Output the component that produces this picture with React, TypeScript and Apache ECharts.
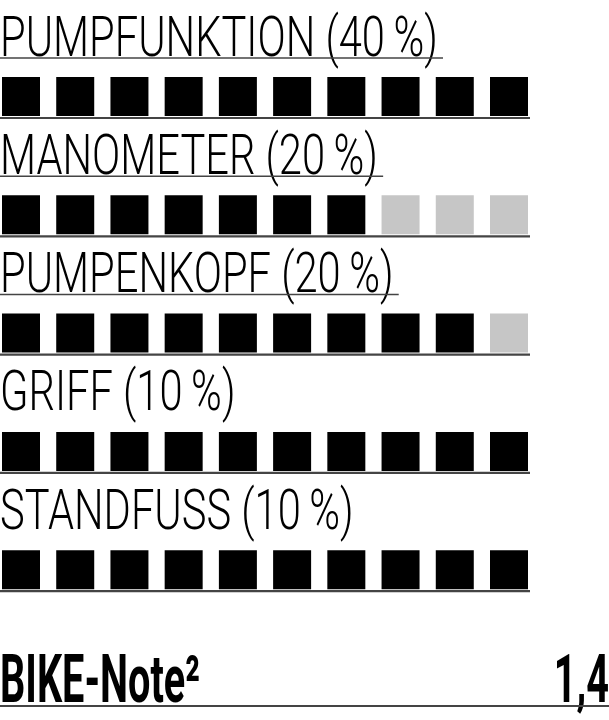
import React, { useEffect, useRef } from "react";
import * as echarts from "echarts";

// Bewertung je Kriterium (Kästchen von 10)
const criteria = ["PUMPFUNKTION", "MANOMETER", "PUMPENKOPF", "GRIFF", "STANDFUSS"];
const weights = [40, 20, 20, 10, 10];
const scores = [10, 7, 9, 10, 10];
const maxScore = 10;
const titleUnderlined = [true, true, true, false, false];
const noteLabel = "BIKE-Note²";
const noteValue = "1,4";

const TITLE_FONT = "Roboto";
const TITLE_SIZE = 56;
const NOTE_SIZE = 66;

const measure = (text: string, font: string) => {
  const ctx = document.createElement("canvas").getContext("2d");
  if (!ctx) return text.length * 30;
  ctx.font = font;
  return ctx.measureText(text).width;
};

const App: React.FC = () => {
  const chartRef = useRef<HTMLDivElement | null>(null);

  useEffect(() => {
    if (!chartRef.current) return;
    document.body.style.margin = "0";
    const chart = echarts.init(chartRef.current, undefined, { renderer: "svg" });

    const titles = criteria.map((c, i) => `${c} (${weights[i]}\u2009%)`);
    const titleFont = `300 ${TITLE_SIZE}px ${TITLE_FONT}`;
    const titleScale = 438 / measure(titles[0], titleFont);
    const noteFont = `bold ${NOTE_SIZE}px ${TITLE_FONT}`;
    const noteScale = 200 / measure(noteLabel, noteFont);

    const rows = criteria.map((_, i) => [i, scores[i]]);

    const option = {
      animation: false,
      backgroundColor: "#ffffff",
      grid: { left: 21, right: 100, top: 96.5, bottom: 150.3 },
      xAxis: { type: "value", min: 0, max: maxScore - 1, show: false },
      yAxis: { type: "value", min: 0, max: criteria.length - 1, inverse: true, show: false },
      series: [
        {
          type: "custom",
          data: rows,
          renderItem: (params: any, api: any) => {
            const row = api.value(0);
            const score = api.value(1);
            const children: any[] = [];
            const [, cy] = api.coord([0, row]);
            const baseline = cy - 39.5;
            const title = titles[row];
            const w = measure(title, titleFont) * titleScale;
            children.push({
              type: "text",
              x: 0,
              y: baseline - TITLE_SIZE * 0.37,
              scaleX: titleScale,
              style: {
                text: title,
                fontFamily: TITLE_FONT,
                fontWeight: 300,
                fontSize: TITLE_SIZE,
                fill: "#000",
                align: "left",
                verticalAlign: "middle",
              },
            });
            if (titleUnderlined[row]) {
              children.push({
                type: "line",
                shape: { x1: 0, y1: baseline + 1, x2: w + 5, y2: baseline + 1 },
                style: { stroke: "#444", lineWidth: 1.5 },
              });
            }
            for (let j = 0; j < maxScore; j++) {
              const [x, y] = api.coord([j, row]);
              children.push({
                type: "rect",
                shape: { x: x - 19, y: y - 19.5, width: 38, height: 39 },
                style: { fill: j < score ? "#000000" : "#c6c6c6" },
              });
            }
            const [xEnd] = api.coord([maxScore - 1, row]);
            children.push({
              type: "line",
              shape: { x1: 0, y1: cy + 21.5, x2: xEnd + 21, y2: cy + 21.5 },
              style: { stroke: "#444", lineWidth: 2.2 },
            });
            return { type: "group", children };
          },
        },
      ],
      graphic: [
        {
          type: "text",
          x: 0,
          y: 703 - NOTE_SIZE * 0.36,
          scaleX: noteScale,
          style: {
            text: noteLabel,
            fontFamily: TITLE_FONT,
            fontWeight: "bold",
            fontSize: NOTE_SIZE,
            fill: "#000",
            align: "left",
            verticalAlign: "middle",
          },
        },
        {
          type: "text",
          x: 609,
          y: 703 - NOTE_SIZE * 0.36,
          scaleX: noteScale,
          style: {
            text: noteValue,
            fontFamily: TITLE_FONT,
            fontWeight: "bold",
            fontSize: NOTE_SIZE,
            fill: "#000",
            align: "right",
            verticalAlign: "middle",
          },
        },
        {
          type: "line",
          shape: { x1: 0, y1: 706, x2: 609, y2: 706 },
          style: { stroke: "#444", lineWidth: 2.2 },
        },
      ],
    };

    chart.setOption(option);
    return () => {
      chart.dispose();
    };
  }, []);

  return (
    <div
      ref={chartRef}
      style={{ position: "fixed", left: 0, top: 0, width: "609px", height: "720px", background: "#fff" }}
    />
  );
};

export default App;
